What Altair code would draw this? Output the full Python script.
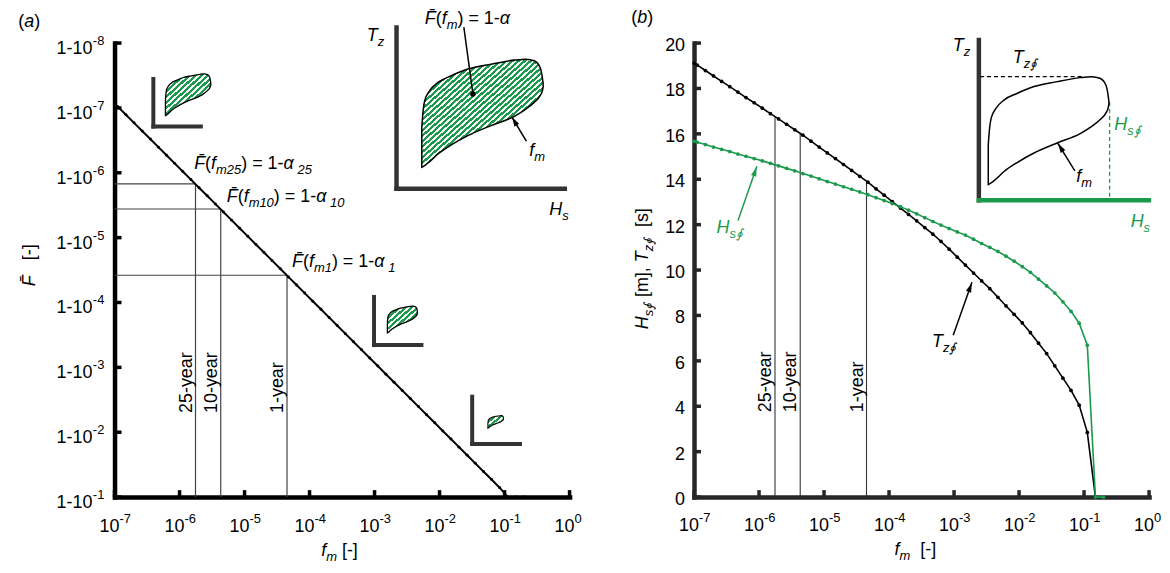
import altair as alt
import pandas as pd

FONT = "Liberation Sans"
GREEN = "#1a9a4b"
AXL = "black"
AXR = "#262626"
W, H = 457, 456
TS = 18
ES = 13

# ---------------- values ----------------
# log10 of the exceedance frequency f_m at each marker
fm_exp = [-7.0, -6.95, -6.825, -6.7, -6.575, -6.45, -6.325, -6.2, -6.075, -5.95, -5.825,
          -5.7, -5.575, -5.45, -5.325, -5.2, -5.075, -4.95, -4.825, -4.7, -4.575,
          -4.45, -4.325, -4.2, -4.075, -3.95, -3.825, -3.7, -3.575, -3.45, -3.325,
          -3.2, -3.075, -2.95, -2.825, -2.7, -2.575, -2.45, -2.325, -2.2, -2.075,
          -1.95, -1.825, -1.7, -1.575, -1.45, -1.325, -1.2, -1.075, -0.95, -0.825, -0.7]
# log10 of (1 - Fbar) for panel (a)
fbar_exp = [-7.07, -7.02, -6.895, -6.77, -6.645, -6.52, -6.395, -6.27, -6.145, -6.02, -5.895,
            -5.77, -5.645, -5.52, -5.395, -5.27, -5.145, -5.02, -4.895, -4.77, -4.645,
            -4.52, -4.395, -4.27, -4.145, -4.02, -3.895, -3.77, -3.645, -3.52, -3.395,
            -3.27, -3.145, -3.02, -2.895, -2.77, -2.645, -2.52, -2.395, -2.27, -2.145,
            -2.02, -1.895, -1.77, -1.645, -1.52, -1.395, -1.27, -1.145, -1.0, -1.0, -1.0]
# panel (b) series
tz_vals = [19.12, 19.03, 18.79, 18.55, 18.31, 18.08, 17.84, 17.60, 17.37, 17.13, 16.89,
           16.66, 16.42, 16.18, 15.94, 15.68, 15.42, 15.16, 14.91, 14.65, 14.39,
           14.13, 13.87, 13.58, 13.30, 13.02, 12.73, 12.45, 12.17, 11.87, 11.58,
           11.26, 10.92, 10.57, 10.22, 9.87, 9.52, 9.18, 8.80, 8.42, 8.05,
           7.67, 7.24, 6.78, 6.32, 5.78, 5.24, 4.70, 4.05, 2.85, 0.0]
hs_vals = [15.67, 15.63, 15.53, 15.42, 15.32, 15.22, 15.11, 15.01, 14.91, 14.81, 14.70,
           14.59, 14.48, 14.37, 14.25, 14.14, 14.02, 13.90, 13.79, 13.67, 13.56,
           13.44, 13.32, 13.19, 13.06, 12.93, 12.79, 12.64, 12.48, 12.31, 12.14,
           11.98, 11.83, 11.68, 11.54, 11.36, 11.17, 11.00, 10.82, 10.61, 10.39,
           10.15, 9.90, 9.60, 9.30, 8.99, 8.60, 8.18, 7.66, 6.69, 0.0, 0.0]

rp_label = ["25-year", "10-year", "1-year"]
rp_fm = [1.76e-6, 4.3e-6, 4.5e-5]
rp_fbar = [1.48e-6, 3.62e-6, 3.8e-5]
rp_tz = [16.77, 16.01, 13.92]

x_tick_exp = [-7, -6, -5, -4, -3, -2, -1, 0]
y_tick_exp = [-8, -7, -6, -5, -4, -3, -2, -1]
y_ticks_r = [0, 2, 4, 6, 8, 10, 12, 14, 16, 18, 20]

# contour sketch (normalised Hs position, lower and upper Tz of the closed contour)
blob_s = [0.003, 0.014, 0.027, 0.068, 0.136, 0.245, 0.381, 0.572, 0.763, 0.858, 0.926, 0.975, 0.995, 1.0]
blob_lo = [0.0, 0.006, 0.015, 0.052, 0.123, 0.206, 0.292, 0.385, 0.471, 0.538, 0.6, 0.662, 0.714, 0.745]
blob_hi = [0.369, 0.523, 0.615, 0.708, 0.785, 0.846, 0.908, 0.954, 0.991, 1.0, 0.985, 0.923, 0.815, 0.769]

# ---------------- helpers ----------------
CW = {'F': 0.611, '(': 0.333, ')': 0.333, 'f': 0.278, 'm': 0.833, ' ': 0.278, '=': 0.584,
      '-': 0.333, '\u03b1': 0.578, 'T': 0.611, 'z': 0.5, 'H': 0.722, 's': 0.5, '\u222e': 0.6,
      '[': 0.278, ']': 0.278, ',': 0.278, 'a': 0.556, 'b': 0.556, 'y': 0.5, 'e': 0.556,
      'r': 0.333, '\u0304': 0.0}


def twidth(t, size):
    return sum(CW.get(c, 0.556) for c in t) * size


class Panel:
    def __init__(self, ylog, ydom, axcolor):
        self.ylog = ylog
        self.sx = alt.Scale(type="log", domain=[1e-7, 1.0], nice=False)
        if ylog:
            self.sy = alt.Scale(type="log", domain=ydom, nice=False, reverse=True)
        else:
            self.sy = alt.Scale(type="linear", domain=ydom, nice=False, zero=False)
        self.ax = alt.Axis(labels=False, ticks=False, title=None, grid=False,
                           domainWidth=4.5, domainColor=axcolor, domainCap="square")
        self.layers = []

    def X(self, v):
        return 10.0 ** v

    def Y(self, v):
        return 10.0 ** v if self.ylog else v

    def enc(self, x="x", y="y", x2=None, y2=None, **kw):
        e = {"x": alt.X(x, type="quantitative", scale=self.sx, axis=self.ax),
             "y": alt.Y(y, type="quantitative", scale=self.sy, axis=self.ax)}
        if x2:
            e["x2"] = alt.X2(x2)
        if y2:
            e["y2"] = alt.Y2(y2)
        e.update(kw)
        return e


def rich(P, xe, ye, segs, size=TS, color="black", angle=0, center=False):
    subsz = round(size * 0.72)
    widths = [twidth(t, subsz if k.startswith("s") else size) for t, k in segs]
    off = -sum(widths) / 2 if center else 0.0
    df = pd.DataFrame({"x": [P.X(xe)], "y": [P.Y(ye)]})
    for (t, k), wd in zip(segs, widths):
        sub = k.startswith("s")
        fs = subsz if sub else size
        lead = len(t) - len(t.lstrip(" "))
        txt = t.strip(" ")
        if txt:
            P.layers.append(alt.Chart(df).mark_text(
                text=txt, align="left", baseline="alphabetic",
                dx=off + lead * 0.278 * fs, dy=round(size * 0.27) if sub else 0,
                fontSize=fs, fontStyle="italic" if k.endswith("i") else "normal",
                font=FONT, color=color, angle=angle).encode(**P.enc()))
        off += wd


def segment(P, x1, y1, x2, y2, color="black", width=1.5, dash=None):
    df = pd.DataFrame({"x": [P.X(x1)], "y": [P.Y(y1)], "x2": [P.X(x2)], "y2": [P.Y(y2)]})
    kw = dict(color=color, strokeWidth=width, strokeCap="square")
    if dash:
        kw = dict(color=color, strokeWidth=width, strokeDash=dash)
    P.layers.append(alt.Chart(df).mark_rule(**kw).encode(**P.enc(x2="x2", y2="y2")))


ARROW = "M0,0L0.5,1.7L-0.5,1.7Z"


def arrow(P, tail, tip, angle, color="black"):
    segment(P, tail[0], tail[1], tip[0], tip[1], color=color, width=1.5)
    df = pd.DataFrame({"x": [P.X(tip[0])], "y": [P.Y(tip[1])]})
    P.layers.append(alt.Chart(df).mark_point(shape=ARROW, filled=True, size=120, angle=angle % 360,
                                             color=color, opacity=1, strokeWidth=0)
                    .encode(**P.enc()))


def hatch(n):
    stops = []
    for i in range(n):
        a, b, c = i / n, (i + 0.55) / n, (i + 1) / n
        stops += [alt.GradientStop(offset=a, color=GREEN), alt.GradientStop(offset=b, color=GREEN),
                  alt.GradientStop(offset=b, color="white"), alt.GradientStop(offset=c, color="white")]
    return alt.LinearGradient(gradient="linear", stops=stops, x1=0, y1=0, x2=1, y2=1)


def blob(P, x0, w, y0, h, nstripe=None, lw=1.3):
    sgn = -1 if P.ylog else 1
    df = pd.DataFrame({
        "x": [10.0 ** (x0 + s * w) for s in blob_s],
        "lo": [P.Y(y0 + sgn * t * h) for t in blob_lo],
        "hi": [P.Y(y0 + sgn * t * h) for t in blob_hi]})
    if nstripe:
        m = alt.Chart(df).mark_area(fill=hatch(nstripe), stroke="black", strokeWidth=lw,
                                    interpolate="monotone")
    else:
        m = alt.Chart(df).mark_area(fill="white", fillOpacity=0, stroke="black", strokeWidth=lw,
                                    interpolate="monotone")
    P.layers.append(m.encode(**P.enc(y="lo", y2="hi")))


def inset_axes(P, xa, ytop, ybot, xr, vcol="#333333", hcol="#333333", lw=4.0):
    segment(P, xa, ytop, xa, ybot, color=vcol, width=lw)
    segment(P, xa, ybot, xr, ybot, color=hcol, width=lw)


TL = 7.0  # inward tick length in px

# =============================== panel (a) ===============================
L = Panel(True, [1e-8, 1e-1], AXL)

# ticks
L.layers.append(alt.Chart(pd.DataFrame({
    "x": [10.0 ** e for e in x_tick_exp], "y": [0.1] * len(x_tick_exp),
    "y2": [10.0 ** (-1 - TL / (H / 7))] * len(x_tick_exp)})).mark_rule(
    color=AXL, strokeWidth=3.5).encode(**L.enc(y2="y2")))
L.layers.append(alt.Chart(pd.DataFrame({
    "y": [10.0 ** e for e in y_tick_exp], "x": [1e-7] * len(y_tick_exp),
    "x2": [10.0 ** (-7 + TL / (W / 7))] * len(y_tick_exp)})).mark_rule(
    color=AXL, strokeWidth=3.5).encode(**L.enc(x2="x2")))

# tick labels
dfl = pd.DataFrame({"x": [10.0 ** e for e in x_tick_exp], "y": [10 ** -0.466] * len(x_tick_exp),
                    "e": [str(e) for e in x_tick_exp]})
L.layers.append(alt.Chart(dfl).mark_text(text="10", align="right", baseline="alphabetic", dx=5,
                                         fontSize=TS, font=FONT, color="black").encode(**L.enc()))
L.layers.append(alt.Chart(dfl).mark_text(align="left", baseline="alphabetic", dx=5, dy=-9,
                                         fontSize=ES, font=FONT, color="black")
                .encode(**L.enc(text=alt.Text("e:N"))))
dfy = pd.DataFrame({"y": [10.0 ** e for e in y_tick_exp], "x": [10 ** -7.341] * len(y_tick_exp),
                    "e": [str(e) for e in y_tick_exp]})
L.layers.append(alt.Chart(dfy).mark_text(text="1-10", align="right", baseline="alphabetic", dy=11,
                                         fontSize=TS, font=FONT, color="black").encode(**L.enc()))
L.layers.append(alt.Chart(dfy).mark_text(align="left", baseline="alphabetic", dx=0.5, dy=2,
                                         fontSize=ES, font=FONT, color="black")
                .encode(**L.enc(text=alt.Text("e:N"))))

# return-period guide lines
L.layers.append(alt.Chart(pd.DataFrame({"x": rp_fm, "y": [0.1] * 3, "y2": rp_fbar}))
                .mark_rule(color="#444444", strokeWidth=1.2).encode(**L.enc(y2="y2")))
L.layers.append(alt.Chart(pd.DataFrame({"x": [1e-7] * 3, "x2": rp_fm, "y": rp_fbar}))
                .mark_rule(color="#444444", strokeWidth=1.2).encode(**L.enc(x2="x2")))
L.layers.append(alt.Chart(pd.DataFrame({"x": rp_fm, "y": [10 ** -2.297] * 3, "t": rp_label}))
                .mark_text(angle=270, align="left", baseline="alphabetic", dy=-4, fontSize=TS,
                           font=FONT, color="black").encode(**L.enc(text=alt.Text("t:N"))))

# main curve
L.layers.append(alt.Chart(pd.DataFrame({"x": [10.0 ** e for e in fm_exp],
                                        "y": [10.0 ** e for e in fbar_exp]}))
                .mark_line(color="black", strokeWidth=2,
                           point=alt.OverlayMarkDef(filled=True, size=9, color="black"))
                .encode(**L.enc()))

# insets
inset_axes(L, -6.403, -7.446, -6.712, -5.672)
blob(L, -6.219, 0.70, -6.882, 0.642, nstripe=15)
inset_axes(L, -3.008, -4.086, -3.343, -2.279)
blob(L, -2.804, 0.464, -3.532, 0.411, nstripe=10)
inset_axes(L, -1.498, -2.548, -1.82, -0.763)
blob(L, -1.257, 0.24, -2.062, 0.194, nstripe=5, lw=1.1)
inset_axes(L, -2.662, -8.24, -5.754, -0.073, lw=4.5)
blob(L, -2.279, 1.873, -6.086, 1.666, nstripe=40, lw=1.5)

segment(L, -1.625, -8.235, -1.487, -7.215, width=1.5)
L.layers.append(alt.Chart(pd.DataFrame({"x": [10 ** -1.487], "y": [10 ** -7.215]}))
                .mark_point(filled=True, size=30, color="black", opacity=1).encode(**L.enc()))
arrow(L, (-0.67, -6.497), (-0.885, -6.855), -31)

# texts
rich(L, -8.481, -8.251, [("(", "n"), ("a", "i"), (")", "n")], size=18)
rich(L, -8.225, -4.574, [("F\u0304", "i"), ("   [-]", "n")], angle=270, center=True)
rich(L, -3.539, -0.097, [("f", "i"), ("m", "si"), (" [-]", "n")], center=True)
rich(L, -5.775, -6.062, [("F\u0304", "i"), ("(", "n"), ("f", "i"), ("m25", "si"),
                          (") = 1-", "n"), ("\u03b1", "i"), (" 25", "si")])
rich(L, -5.274, -5.548, [("F\u0304", "i"), ("(", "n"), ("f", "i"), ("m10", "si"),
                          (") = 1-", "n"), ("\u03b1", "i"), (" 10", "si")])
rich(L, -4.27, -4.548, [("F\u0304", "i"), ("(", "n"), ("f", "i"), ("m1", "si"),
                         (") = 1-", "n"), ("\u03b1", "i"), (" 1", "si")])
rich(L, -3.121, -8.035, [("T", "i"), ("z", "si")])
rich(L, -0.312, -5.343, [("H", "i"), ("s", "si")])
rich(L, -2.227, -8.297, [("F\u0304", "i"), ("(", "n"), ("f", "i"), ("m", "si"),
                          (") = 1-", "n"), ("\u03b1", "i")])
rich(L, -0.619, -6.266, [("f", "i"), ("m", "si")])

left = alt.layer(*L.layers).properties(width=W, height=H)

# =============================== panel (b) ===============================
R = Panel(False, [0, 20], AXR)

R.layers.append(alt.Chart(pd.DataFrame({
    "x": [10.0 ** e for e in x_tick_exp], "y": [0.0] * len(x_tick_exp),
    "y2": [TL * 20 / H] * len(x_tick_exp)})).mark_rule(
    color=AXR, strokeWidth=3.5).encode(**R.enc(y2="y2")))
R.layers.append(alt.Chart(pd.DataFrame({
    "y": y_ticks_r, "x": [1e-7] * len(y_ticks_r),
    "x2": [10.0 ** (-7 + TL / (W / 7))] * len(y_ticks_r)})).mark_rule(
    color=AXR, strokeWidth=3.5).encode(**R.enc(x2="x2")))

dfr = pd.DataFrame({"x": [10.0 ** e for e in x_tick_exp], "y": [-1.478] * len(x_tick_exp),
                    "e": [str(e) for e in x_tick_exp]})
R.layers.append(alt.Chart(dfr).mark_text(text="10", align="right", baseline="alphabetic", dx=5,
                                         fontSize=TS, font=FONT, color="black").encode(**R.enc()))
R.layers.append(alt.Chart(dfr).mark_text(align="left", baseline="alphabetic", dx=5, dy=-9,
                                         fontSize=ES, font=FONT, color="black")
                .encode(**R.enc(text=alt.Text("e:N"))))
dfry = pd.DataFrame({"y": y_ticks_r, "x": [10 ** -7.138] * len(y_ticks_r),
                     "t": [str(v) for v in y_ticks_r]})
R.layers.append(alt.Chart(dfry).mark_text(align="right", baseline="alphabetic", dy=8,
                                          fontSize=TS, font=FONT, color="black")
                .encode(**R.enc(text=alt.Text("t:N"))))

R.layers.append(alt.Chart(pd.DataFrame({"x": rp_fm, "y": [0.0] * 3, "y2": rp_tz}))
                .mark_rule(color="#333333", strokeWidth=1.1).encode(**R.enc(y2="y2")))
R.layers.append(alt.Chart(pd.DataFrame({"x": rp_fm, "y": [3.74] * 3, "t": rp_label}))
                .mark_text(angle=270, align="left", baseline="alphabetic", dy=-4, fontSize=TS,
                           font=FONT, color="black").encode(**R.enc(text=alt.Text("t:N"))))

R.layers.append(alt.Chart(pd.DataFrame({"x": [10.0 ** e for e in fm_exp[:len(tz_vals)]],
                                        "y": tz_vals}))
                .mark_line(color="black", strokeWidth=1.6,
                           point=alt.OverlayMarkDef(filled=True, size=14, color="black"))
                .encode(**R.enc()))
R.layers.append(alt.Chart(pd.DataFrame({"x": [10.0 ** e for e in fm_exp[:len(hs_vals)]],
                                        "y": hs_vals}))
                .mark_line(color=GREEN, strokeWidth=1.6,
                           point=alt.OverlayMarkDef(filled=True, size=14, color=GREEN))
                .encode(**R.enc()))

# inset of panel (b)
segment(R, -2.618, 20.13, -2.618, 13.08, color="#333333", width=4.5)
segment(R, -2.618, 13.08, -0.003, 13.08, color=GREEN, width=4.5)
segment(R, -2.6, 18.52, -1.037, 18.52, color="black", width=1.3, dash=[4, 3])
segment(R, -0.607, 17.4, -0.607, 13.08, color=GREEN, width=1.3, dash=[4, 3])
blob(R, -2.479, 1.861, 13.77, 4.75, nstripe=None, lw=1.5)
arrow(R, (-1.148, 14.4), (-1.4, 15.57), -32)
arrow(R, (-6.32, 12.21), (-6.037, 14.54), 19, color=GREEN)
arrow(R, (-3.009, 7.16), (-2.728, 9.43), 20)

rich(R, -7.965, 20.87, [("(", "n"), ("b", "i"), (")", "n")], size=18)
rich(R, -7.708, 10.06, [("H", "i"), ("s\u222e", "si"), (" [m], ", "n"), ("T", "i"), ("z\u222e", "si"),
                        ("  [s]", "n")], angle=270, center=True)
rich(R, -3.595, -2.53, [("f", "i"), ("m", "si"), ("  [-]", "n")], center=True)
rich(R, -6.653, 11.64, [("H", "i"), ("s\u222e", "si")], color=GREEN)
rich(R, -3.339, 6.59, [("T", "i"), ("z\u222e", "si")])
rich(R, -3.02, 19.66, [("T", "i"), ("z", "si")])
rich(R, -2.098, 19.14, [("T", "i"), ("z\u222e", "si")])
rich(R, -0.534, 16.16, [("H", "i"), ("s\u222e", "si")], color=GREEN)
rich(R, -1.121, 13.87, [("f", "i"), ("m", "si")])
rich(R, -0.283, 11.9, [("H", "i"), ("s", "si")], color=GREEN)

right = alt.layer(*R.layers).properties(width=W, height=H)

chart = (alt.hconcat(left, right, spacing=48)
         .properties(padding={"left": 10, "top": 0, "right": 0, "bottom": 0})
         .configure_view(stroke=None))

chart.save("out.html", embed_options={"renderer": "svg", "actions": False})
